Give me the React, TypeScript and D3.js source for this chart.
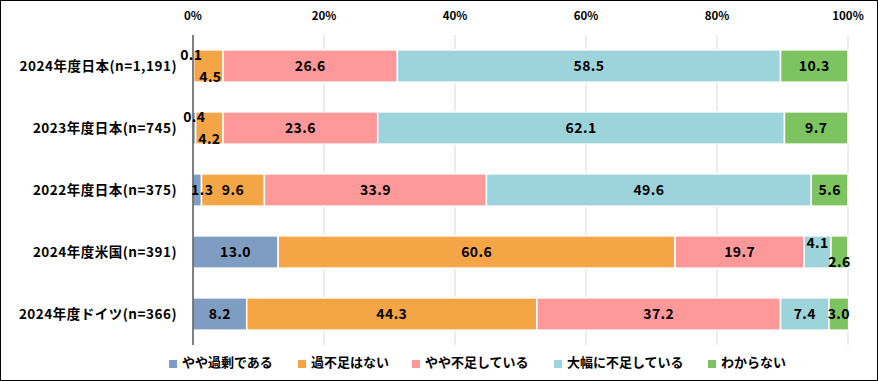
import React from "react";
import * as d3 from "d3";

const categories = [
  "2024年度日本(n=1,191)",
  "2023年度日本(n=745)",
  "2022年度日本(n=375)",
  "2024年度米国(n=391)",
  "2024年度ドイツ(n=366)",
];
const seriesNames = ["やや過剰である", "過不足はない", "やや不足している", "大幅に不足している", "わからない"];
const yayaKajo = [0.1, 0.4, 1.3, 13.0, 8.2];
const kafusokuNashi = [4.5, 4.2, 9.6, 60.6, 44.3];
const yayaFusoku = [26.6, 23.6, 33.9, 19.7, 37.2];
const ohabaFusoku = [58.5, 62.1, 49.6, 4.1, 7.4];
const wakaranai = [10.3, 9.7, 5.6, 2.6, 3.0];
const tickValues = [0, 20, 40, 60, 80, 100];

const colors = ["#7F9DC2", "#F4A546", "#FF9999", "#9DD3DA", "#7DC35F"];

// label nudges [row][series] = [dx, dy]
const nudges: Record<string, [number, number]> = {
  "0-0": [-2, -11],
  "0-1": [2, 11],
  "1-0": [0, -11],
  "1-1": [0, 11],
  "2-0": [5, 0],
  "3-3": [0, -9],
  "3-4": [0, 10],
};

const legendX = [169, 298, 412, 554, 708];

const W = 878;
const H = 381;
const FONT = "'Noto Sans CJK JP', 'Noto Sans', sans-serif";

export default function App() {
  const series = [yayaKajo, kafusokuNashi, yayaFusoku, ohabaFusoku, wakaranai];
  const x = d3.scaleLinear().domain([0, 100]).range([193, 848]);
  const y = d3.scaleBand<string>().domain(categories).range([35, 345]).paddingInner(0.48).paddingOuter(0.24);

  const rows = categories.map((c, i) => {
    let acc = 0;
    return series.map((s, j) => {
      const v = s[i];
      const seg = { c, i, j, v, x0: acc, x1: acc + v };
      acc += v;
      return seg;
    });
  });

  return (
    <svg width={W} height={H} style={{ position: "absolute", left: 0, top: 0, background: "#fff" }} fontFamily={FONT}>
      <rect x={0.5} y={0.5} width={W - 1} height={H - 1} fill="#fff" stroke="#000" strokeWidth={1} />
      {tickValues.map((t) => (
        <g key={t}>
          {t > 0 && <line x1={x(t)} x2={x(t)} y1={35} y2={345} stroke="#D9D9D9" strokeWidth={1} />}
          <text x={x(t)} y={20} textAnchor="middle" fontSize={11.5} fontWeight="bold" fill="#000">
            {t}%
          </text>
        </g>
      ))}
      {rows.map((segs, i) => (
        <g key={i}>
          {segs.map((s) => (
            <rect
              key={s.j}
              x={x(s.x0)}
              y={y(s.c)!}
              width={x(s.x1) - x(s.x0)}
              height={y.bandwidth()}
              fill={colors[s.j]}
              stroke="#fff"
              strokeWidth={1.5}
            />
          ))}
          {segs.map((s) => {
            const n = nudges[`${i}-${s.j}`] || [0, 0];
            return (
              <text
                key={"t" + s.j}
                x={(x(s.x0) + x(s.x1)) / 2 + n[0]}
                y={y(s.c)! + y.bandwidth() / 2 + n[1]}
                dy="0.36em"
                textAnchor="middle"
                fontSize={14}
                letterSpacing={0.4}
                fontWeight="bold"
                fill="#000"
              >
                {s.v.toFixed(1)}
              </text>
            );
          })}
          <text
            x={177}
            y={y(categories[i])! + y.bandwidth() / 2}
            dy="0.36em"
            textAnchor="end"
            fontSize={13.5}
            letterSpacing={0.5}
            fontWeight="bold"
            fill="#000"
          >
            {categories[i]}
          </text>
        </g>
      ))}
      <line x1={193} x2={193} y1={35} y2={345} stroke="#000" strokeWidth={1} />
      {seriesNames.map((name, j) => {
        const lx = legendX[j];
        return (
          <g key={name}>
            <rect x={lx} y={360} width={8} height={8} fill={colors[j]} />
            <text x={lx + 13} y={362} dy="0.36em" fontSize={13} fontWeight="bold" fill="#000">
              {name}
            </text>
          </g>
        );
      })}
    </svg>
  );
}
